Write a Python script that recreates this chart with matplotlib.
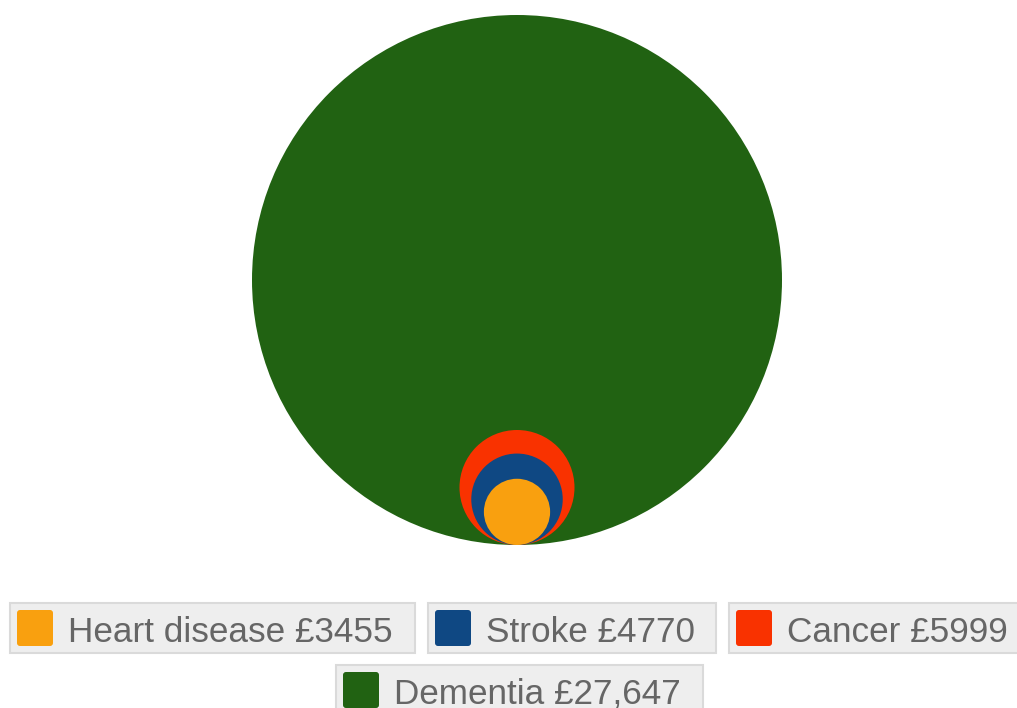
import matplotlib.pyplot as plt
from matplotlib.patches import Circle, FancyBboxPatch

# cost per person, drawn as circles whose radius grows with the value
labels = ["Heart disease", "Stroke", "Cancer", "Dementia"]
costs = [3455, 4770, 5999, 27647]
cost_text = ["£3455", "£4770", "£5999", "£27,647"]
colors = ["#F9A00F", "#0F4883", "#F93200", "#216212"]

W, H = 1017, 708
fig = plt.figure(figsize=(W / 100, H / 100), dpi=100)
ax = fig.add_axes([0, 0, 1, 1])
ax.set_xlim(0, W)
ax.set_ylim(H, 0)
ax.set_aspect("equal")
ax.axis("off")

# all circles sit on the same baseline, biggest drawn first
cx, base = 517, 545
scale = 265 / max(costs)
for cost, col in sorted(zip(costs, colors), reverse=True):
    r = cost * scale
    ax.add_patch(Circle((cx, base - r), r, facecolor=col, edgecolor="none"))

# legend chips: (left, right, top) for each entry
chips = [(10, 415, 603), (428, 716, 603), (729, 1025, 603), (336, 703, 665)]
for (x0, x1, y0), lab, txt, col in zip(chips, labels, cost_text, colors):
    ax.add_patch(FancyBboxPatch((x0, y0), x1 - x0, 50, boxstyle="square,pad=0",
                                facecolor="#EEEEEE", edgecolor="#DADADA", linewidth=1.5))
    ax.add_patch(FancyBboxPatch((x0 + 7, y0 + 7), 36, 36, boxstyle="round,pad=0,rounding_size=3",
                                facecolor=col, edgecolor="none"))
    ax.text(x0 + 58, y0 + 29, f"{lab} {txt}", fontsize=25.3, color="#666666",
            family="Liberation Sans", va="center", ha="left")

fig.savefig("out.png", dpi=100)
